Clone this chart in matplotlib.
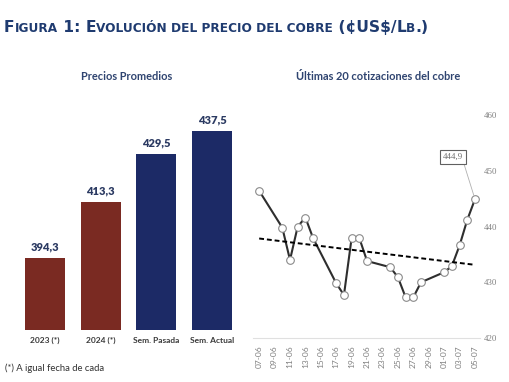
import matplotlib
matplotlib.use("Agg")
import matplotlib.pyplot as plt
import matplotlib.dates as mdates
import numpy as np
import pandas as pd

# ---- data ----
bar_labels = ["2023 (*)", "2024 (*)", "Sem. Pasada", "Sem. Actual"]
bar_values = [394.3, 413.3, 429.5, 437.5]
bar_value_text = ["394,3", "413,3", "429,5", "437,5"]

dates = ["2024-06-07", "2024-06-10", "2024-06-11", "2024-06-12", "2024-06-13",
         "2024-06-14", "2024-06-17", "2024-06-18", "2024-06-19", "2024-06-20",
         "2024-06-21", "2024-06-24", "2024-06-25", "2024-06-26", "2024-06-27",
         "2024-06-28", "2024-07-01", "2024-07-02", "2024-07-03", "2024-07-04",
         "2024-07-05"]
prices = [446.4, 439.8, 434.0, 440.0, 441.6, 437.9, 429.8, 427.7, 438.0, 437.9,
          433.8, 432.7, 430.9, 427.3, 427.3, 430.0, 431.8, 432.9, 436.6, 441.2,
          444.9]
last_label = "444,9"
y_ticks = [420, 430, 440, 450, 460]

NAVY = "#1c2a66"
RED = "#7a2a22"
TITLE_C = "#1f3b70"

W, H = 510, 382
fig = plt.figure(figsize=(W / 100, H / 100), dpi=100)
fig.patch.set_facecolor("white")

# overlay axes for figure-level text (pixel coords, origin top-left)
ov = fig.add_axes([0, 0, 1, 1])
ov.set_xlim(0, W)
ov.set_ylim(H, 0)
ov.axis("off")

# ---- title in small caps ----
BIG, SMALL = 11.2, 8.7
pieces = [("F", BIG), ("IGURA", SMALL), (" 1: ", BIG), ("E", BIG),
          ("VOLUCIÓN DEL PRECIO DEL COBRE", SMALL), (" (¢US$/", BIG),
          ("L", BIG), ("B", SMALL), (".)", BIG)]
renderer = fig.canvas.get_renderer()
xpos = 4.0
for txt, sz in pieces:
    t = ov.text(xpos, 32, txt, fontsize=sz, fontweight="bold", color=TITLE_C,
                family="DejaVu Sans", va="baseline", ha="left")
    probe = ov.text(0, 0, "|" + txt + "|", fontsize=sz, fontweight="bold",
                    family="DejaVu Sans")
    bar_probe = ov.text(0, 0, "||", fontsize=sz, fontweight="bold",
                        family="DejaVu Sans")
    wpx = (probe.get_window_extent(renderer).width
           - bar_probe.get_window_extent(renderer).width)
    probe.remove()
    bar_probe.remove()
    xpos += wpx

# ---- bar chart ----
ax1 = fig.add_axes([17 / W, 1 - 330 / H, 223 / W, 236 / H])
x = np.arange(len(bar_values))
colors = [RED, RED, NAVY, NAVY]
ax1.bar(x, bar_values, width=0.72, color=colors)
ax1.set_ylim(370, 450)
ax1.set_xlim(-0.5, 3.5)
for xi, v, t in zip(x, bar_values, bar_value_text):
    ax1.text(xi, v + 2.0, t, ha="center", va="bottom", fontsize=8,
             fontweight="heavy", color="#2b3a62", family="Lato")
ax1.set_xticks(x)
ax1.set_xticklabels(bar_labels, fontsize=6, fontweight="bold", color="#3a3a3a",
                    family="Lato")
ax1.tick_params(axis="x", length=0, pad=5)
ax1.set_yticks([])
for s in ax1.spines.values():
    s.set_visible(False)
ov.text(127, 77, "Precios Promedios", ha="center", va="center",
        fontsize=7.9, fontweight="bold", color="#2f4470", family="Lato")
ov.text(5, 368, "(*) A igual fecha de cada", ha="left", va="center",
        fontsize=6.8, color="#333333", family="Lato")

# ---- line chart ----
d = pd.to_datetime(dates)
ax2 = fig.add_axes([253 / W, 1 - 338 / H, 227 / W, 223 / H])
ax2.plot(d, prices, color="#2e2e2e", lw=1.5, marker="o", markersize=5.5,
         markerfacecolor="white", markeredgecolor="#8a8a8a", markeredgewidth=0.8,
         zorder=3)
# linear trend from the data
xn = mdates.date2num(d)
coef = np.polyfit(xn, prices, 1)
ax2.plot(d, np.polyval(coef, xn), color="black", lw=1.4, ls=(0, (2.5, 1.5)), zorder=4)
ax2.set_ylim(420, 460)
ax2.set_xlim(mdates.date2num(d[0]) - 0.8, mdates.date2num(d[-1]) + 0.65)
ax2.yaxis.tick_right()
ax2.set_yticks(y_ticks)
ax2.set_yticklabels([str(t) for t in y_ticks], fontsize=6.4, color="#808080",
                    family="Liberation Serif")
ax2.tick_params(axis="y", length=0, pad=3)
ticks = pd.date_range(d[0], d[-1], freq="2D")
ax2.set_xticks(ticks)
ax2.set_xticklabels([t.strftime("%d-%m") for t in ticks], rotation=90,
                    fontsize=6, color="#808080", family="Lato")
ax2.tick_params(axis="x", length=0, pad=5)
for s in ["top", "left", "right"]:
    ax2.spines[s].set_visible(False)
ax2.spines["bottom"].set_color("#e0e0e0")
ax2.spines["bottom"].set_linewidth(0.8)
ax2.annotate(last_label, xy=(d[-1], prices[-1]), xytext=(453, H - 157),
             textcoords="figure pixels", fontsize=6.5, color="#707070",
             family="Liberation Serif", ha="center", va="center",
             bbox=dict(boxstyle="square,pad=0.3", fc="white", ec="#606060", lw=0.8),
             arrowprops=dict(arrowstyle="-", color="#b0b0b0", lw=0.6,
                             relpos=(1, 0), shrinkA=0, shrinkB=3),
             annotation_clip=False)
ov.text(378, 77, "Últimas 20 cotizaciones del cobre", ha="center",
        va="center", fontsize=7.9, fontweight="bold", color="#2f4470", family="Lato")

fig.savefig("out.png", dpi=100, facecolor="white")
